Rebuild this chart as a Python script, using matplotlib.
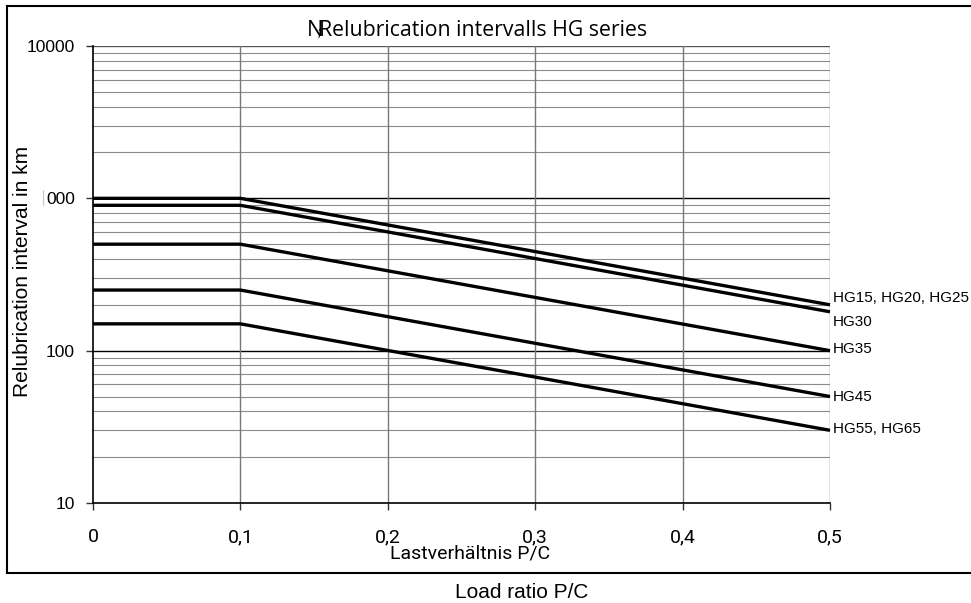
import numpy as np
import matplotlib
matplotlib.use("Agg")
import matplotlib.pyplot as plt
from matplotlib.lines import Line2D

# load ratio P/C breakpoints
load_ratio = [0.0, 0.1, 0.5]

# relubrication interval (km) per series
hg15_25 = [1000, 1000, 200]
hg30 = [900, 900, 180]
hg35 = [500, 500, 100]
hg45 = [250, 250, 50]
hg55_65 = [150, 150, 30]

series = [hg15_25, hg30, hg35, hg45, hg55_65]
series_labels = ["HG15, HG20, HG25", "HG30", "HG35", "HG45", "HG55, HG65"]
label_offsets = [5, -7, 1, 0, 1]   # points, vertical nudge of the end labels

x_ticks = [0, 0.1, 0.2, 0.3, 0.4, 0.5]
x_ticklabels = ["0", "0,1", "0,2", "0,3", "0,4", "0,5"]
y_ticks = [10, 100, 1000, 10000]
y_ticklabels = ["10", "100", "000", "10000"]

W, H = 971, 603
fig = plt.figure(figsize=(W / 100, H / 100), dpi=100)
ax = fig.add_axes([93 / W, 1 - 503 / H, (830 - 93) / W, (503 - 46) / H])

ax.set_yscale("log")
ax.set_xlim(0, 0.5)
ax.set_ylim(10, 10000)

# grid: minor grey, decade lines black
for dec in [10, 100, 1000]:
    for m in range(2, 10):
        ax.axhline(dec * m, color="#8a8a8a", lw=0.8, zorder=1)
for yv in [100, 1000]:
    ax.axhline(yv, color="black", lw=1.0, zorder=1)
ax.axhline(10000, color="#555555", lw=1.0, zorder=1)
for xv in x_ticks[1:]:
    ax.axvline(xv, color="#777777", lw=1.0, zorder=1)

for ys, lab, off in zip(series, series_labels, label_offsets):
    ax.plot(load_ratio, ys, color="black", lw=2.4, solid_capstyle="butt", zorder=3, clip_on=False)
    ax.annotate(lab, xy=(load_ratio[-1], ys[-1]), xytext=(2, off), textcoords="offset points",
                ha="left", va="center", fontsize=11, family="Liberation Sans",
                annotation_clip=False)

for s in ["top", "right"]:
    ax.spines[s].set_visible(False)
ax.spines["left"].set_color("black")
ax.spines["left"].set_linewidth(1.2)
ax.spines["bottom"].set_color("black")
ax.spines["bottom"].set_linewidth(1.2)

ax.set_xticks(x_ticks)
ax.set_xticklabels(x_ticklabels, family="Roboto", fontsize=14)
ax.set_yticks(y_ticks)
ax.set_yticklabels(y_ticklabels, family="Liberation Sans", fontsize=12.5)
ax.yaxis.set_minor_locator(matplotlib.ticker.NullLocator())
ax.tick_params(axis="both", direction="out", length=5, width=1, color="#333333")
ax.tick_params(axis="x", pad=13)
ax.tick_params(axis="y", pad=8)

ax.set_ylabel("Relubrication interval in km", family="Liberation Sans", fontsize=15)
ax.yaxis.set_label_coords(-61 / (830 - 93), (503 - 271) / (503 - 46))

fig.text(470 / W, 1 - 554 / H, "Lastverhältnis P/C", family="Roboto", fontsize=14,
         ha="center", va="center")

# clipped "1" of the 1000 label
fig.text(43 / W, 1 - 198 / H, "|", color="#c8c8c8", fontsize=11, ha="center", va="center")

# title
fig.text(307 / W, 1 - 30 / H, "N", family="Open Sans", fontsize=15.5, ha="left", va="center")
fig.text(318 / W, 1 - 33 / H, ";", family="Open Sans", fontsize=9, ha="left", va="center")
fig.text(319 / W, 1 - 30 / H, "Relubrication intervalls HG series", family="Open Sans",
         fontsize=15.3, ha="left", va="center")

fig.text(522 / W, 1 - 593 / H, "Load ratio P/C", family="Liberation Sans", fontsize=15,
         ha="center", va="center")

# outer frame (open on the right)
fx0, fy0, fy1 = 7 / W, 1 - 573 / H, 1 - 6 / H
for xs, ys in [([fx0, 1.0], [fy1, fy1]), ([fx0, 1.0], [fy0, fy0]), ([fx0, fx0], [fy0, fy1])]:
    fig.add_artist(Line2D(xs, ys, transform=fig.transFigure, color="black", lw=1.5))

fig.savefig("out.png", dpi=100)
